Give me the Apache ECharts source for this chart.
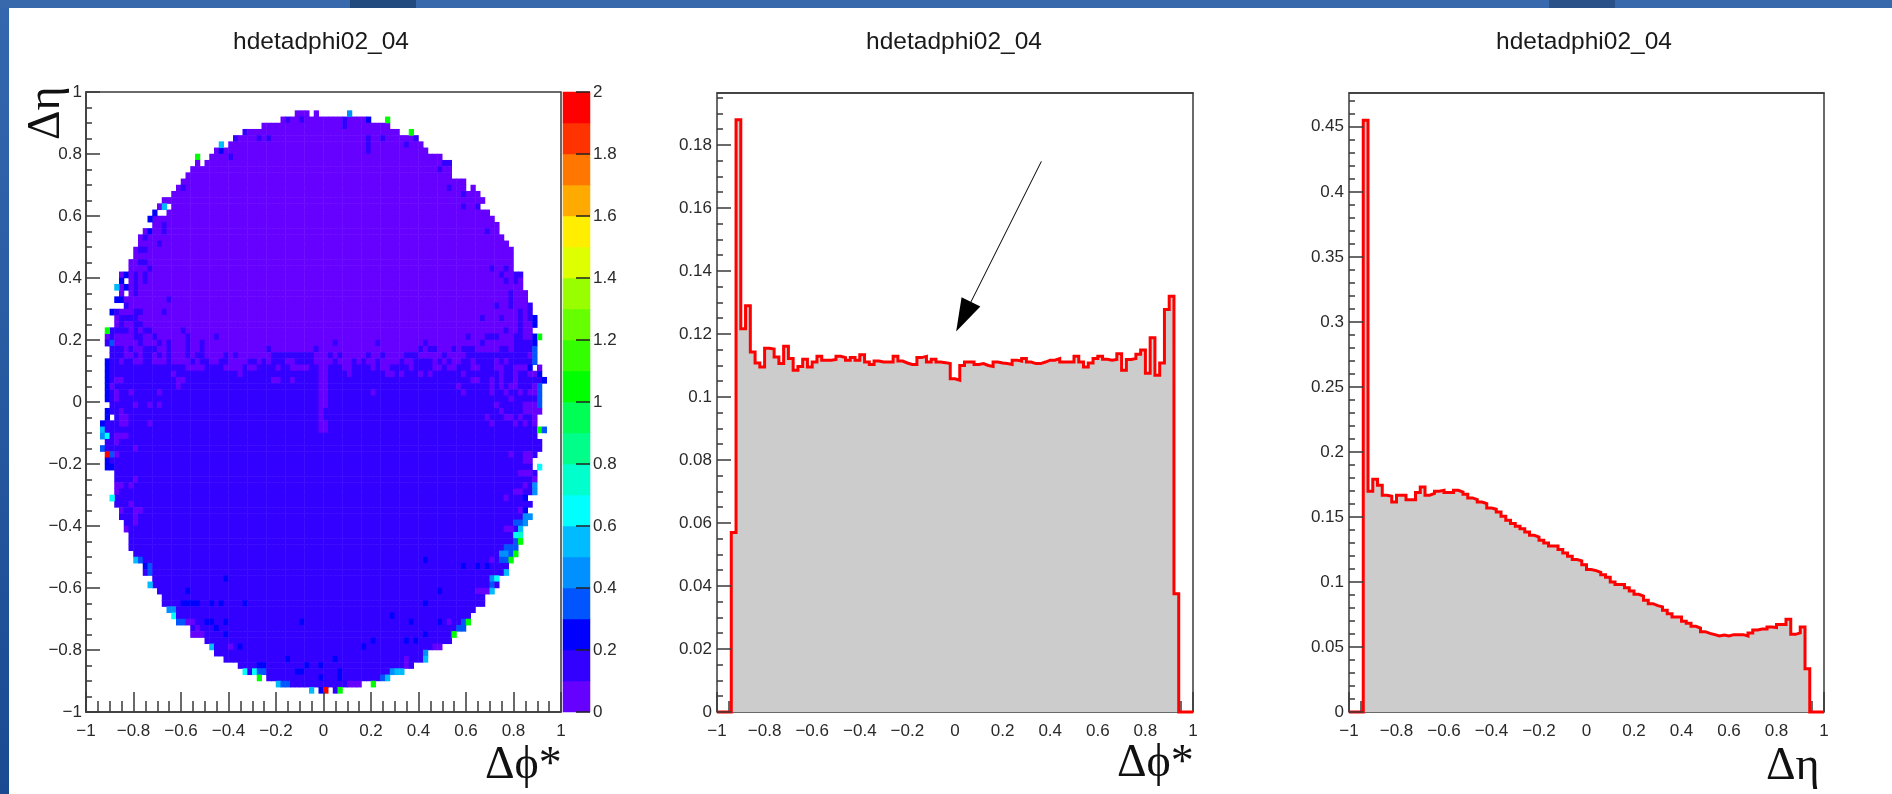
<!DOCTYPE html>
<html><head><meta charset="utf-8">
<style>html,body{margin:0;padding:0;background:#fff}#c{width:1892px;height:794px}</style>
<script src="https://cdn.jsdelivr.net/npm/echarts@6/dist/echarts.min.js"></script>
</head><body><div id="c"></div>
<script>
const titleText = 'hdetadphi02_04';
const axisTicks = [-1,-0.8,-0.6,-0.4,-0.2,0,0.2,0.4,0.6,0.8,1];
const colorTicks = [0,0.2,0.4,0.6,0.8,1,1.2,1.4,1.6,1.8,2];
const phiYTicks = [0,0.02,0.04,0.06,0.08,0.1,0.12,0.14,0.16,0.18];
const etaYTicks = [0,0.05,0.1,0.15,0.2,0.25,0.3,0.35,0.4,0.45];
const phiYMax = 0.1965, etaYMax = 0.476;

// Δφ* projection, 100 bins of 0.02 from -1
const phiHist = [0,0,0,0.057,0.188,0.1217,0.129,0.1143,0.1108,0.1095,0.1155,0.1152,0.1127,0.1106,0.1161,0.1122,0.1085,0.1097,0.112,0.1095,
0.1111,0.1129,0.1117,0.1117,0.1119,0.1129,0.1125,0.1117,0.1125,0.1117,0.1134,0.1111,0.1103,0.1114,0.1111,0.1111,0.1111,0.1129,0.1114,0.1108,
0.1103,0.1103,0.1125,0.1129,0.1111,0.112,0.1111,0.1109,0.1106,0.1058,0.1053,0.11,0.1111,0.1111,0.1103,0.1106,0.11,0.1097,0.1111,0.1108,
0.1106,0.1103,0.1117,0.1114,0.1122,0.1111,0.1106,0.1106,0.1111,0.1117,0.1117,0.1122,0.1111,0.1111,0.1111,0.1129,0.1111,0.1095,0.1108,0.1122,
0.1129,0.112,0.1117,0.1119,0.1137,0.1085,0.1119,0.1122,0.1136,0.1149,0.1075,0.1188,0.1069,0.1108,0.1278,0.132,0.0375,0,0,0];
// Δη projection, 100 bins of 0.02 from -1
const etaHist = [0,0,0,0.455,0.1697,0.179,0.1744,0.1667,0.1659,0.1615,0.1667,0.1667,0.1633,0.1633,0.1687,0.1731,0.1667,0.168,0.1697,0.1705,
0.1687,0.1687,0.1705,0.1692,0.1674,0.1646,0.1633,0.1615,0.1603,0.1569,0.1559,0.1538,0.1505,0.1474,0.1449,0.1428,0.141,0.1385,0.1359,0.1346,
0.1321,0.13,0.1277,0.1277,0.1249,0.1223,0.1197,0.1172,0.1162,0.1133,0.1095,0.1087,0.1074,0.1056,0.1036,0.1,0.098,0.098,0.0956,0.0931,
0.0905,0.0892,0.0859,0.0833,0.0818,0.0808,0.0782,0.0756,0.0731,0.0731,0.0698,0.0682,0.0659,0.0646,0.0618,0.0605,0.0595,0.0585,0.0592,0.0585,
0.0595,0.0595,0.0595,0.0585,0.0608,0.0631,0.0638,0.0638,0.0654,0.0649,0.0672,0.0672,0.0713,0.0597,0.0608,0.0654,0.0333,0,0,0];

// Filled bins of the 2D map: first and last column of rows 3..96, counted from the top
const firstRow = 3;
const rowFirst = [44,41,37,33,31,30,27,26,25,22,21,20,19,18,16,18,17,14,14,12,11,11,10,10,9,9,7,7,7,7,6,8,5,6,6,5,4,4,5,5,4,4,4,4,4,4,4,5,4,4,3,3,3,4,3,4,4,4,6,6,6,6,6,6,7,7,8,8,9,9,9,10,10,12,12,14,14,15,16,16,17,18,19,22,22,25,26,27,29,32,33,38,40,50];
const rowLast  = [46,59,63,65,69,70,71,74,76,76,76,79,79,82,83,82,84,85,86,86,87,88,89,89,89,89,91,91,91,92,92,93,93,94,94,93,94,94,94,94,94,93,95,96,95,95,95,95,95,94,94,94,94,95,95,94,93,93,94,94,94,94,92,93,92,93,92,91,91,91,90,90,89,88,88,86,86,85,83,83,81,80,80,79,76,76,74,71,71,68,66,63,57,50];
const holeCells = [[30,8],[32,8],[52,5]];
const strayCells = [[3,48],[3,55],[4,63],[6,68],[8,28],[10,23],[11,23],[15,81],[18,15],[18,16],[19,14],[20,13],[31,6],[38,4],[39,95],[44,95],[54,95],[54,96],[60,95],[65,5],[79,13],[87,77],[94,36],[95,60],[96,47],[96,49],[96,52],[96,53]];
const lastVioletRow = 43; // rows above this are level 0, rows below are level 1

// Cells that differ from their row's base level: [row, [columns]]
const level0Specks = [[3,[48]],[11,[23]],[18,[15]],[44,[21,22,23,24,29,30,31,32,34,35,40,43,44,45,46,49,50,54,55,60,62,63,68,73,74,76,77,81,82,86,87,90,91,92,95]],
[45,[18,32,49,50,55,63,64,66,70,72,79,87,90,93,94]],[46,[6,7,19,20,39,40,43,49,50,81,82,85,87,90]],[47,[5,19,49,50,78,85,87,89,90,94,95]],[48,[6,9,15,49,50,60,79,85,88,91,93,94]],
[49,[6,49,50,89]],[50,[10,13,15,49,50,86,92,93,94]],[51,[7,49,87,92,93,94,95]],[52,[7,8,49,84,88,89,91,94]],[53,[7,8,13,49,50,85,90,92,94]],[54,[49,50]],[55,[6,7,8]],[56,[6]],[57,[10]],
[58,[5,6,89,92,93]],[59,[92,93]],[61,[91,92,93]],[62,[10,94]],[63,[6,7,9,92]],[64,[6,90,91]],[65,[88]],[66,[9]],[67,[7,10,11,91]],[68,[10]],[69,[10]],[70,[8,88,89]],[75,[85]],[80,[84,82,83]],[85,[21,22,76]],[86,[23]],[87,[22,23,24]],[89,[30,73,74]],[91,[67]],[92,[67]],[95,[55,56,57]]];
const level1Specks = [[4,[42,45,54]],[5,[54]],[6,[33]],[7,[31,36,38,59,62,69]],[8,[59,67]],[9,[59]],[10,[30]],[11,[75,76]],[12,[74]],[15,[20,76]],[16,[79]],[18,[79,82]],[21,[16]],[22,[16,84]],[23,[12]],[24,[15]],[25,[11,12]],[27,[11,12]],[28,[13,85,88]],
[29,[10,12,87,90,91]],[30,[10,12,88,90]],[31,[10]],[32,[10,89]],[33,[17,89]],[34,[8,86,89,93]],[35,[6,10,11,16,91,93]],[36,[7,8,9,10,83,87,91,93]],[37,[7,10,11,91]],[38,[5,6,7,8,10,12,13,20,88,91]],[39,[5,10,11,14,21,27,80,84,85,86,90,91]],[40,[4,11,15,17,21,24,52,61,71,83,90,91,92,93]],
[41,[5,6,7,9,12,13,14,17,21,24,38,48,70,72,73,77,79,80,81,87,88,90,91,92,93]],[42,[5,6,7,10,12,13,15,17,21,23,24,29,31,39,40,41,42,43,44,45,46,47,51,53,59,62,67,68,69,75,80,81,82,83,84,85,86,87,88,89,90,91,92]],
[43,[5,6,8,9,12,13,17,22,24,25,28,29,34,35,37,39,40,41,44,45,46,47,52,56,58,61,66,69,70,71,72,74,76,79,80,82,83,84,85,87,89,90,91,92,93]]];
const level2Specks = [[4,[59]],[9,[28]],[19,[14]],[20,[13]],[22,[13]],[29,[8]],[30,[7]],[31,[8]],[33,[6,7]],[35,[5]],[36,[94]],[37,[94]],[39,[94]],[40,[94]],[43,[4]],[44,[4,93]],[45,[4,95]],[46,[4,96]],[47,[4]],[48,[4]],[49,[4]],[51,[4]],[52,[4]],[53,[3]],[59,[4]],[60,[4,5]],[65,[92]],[67,[92]],
[75,[71]],[76,[12,79,82,84]],[78,[29]],[80,[74,21]],[82,[20,21,22,23,26,28,33,71]],[84,[64]],[85,[25,26,29,45,68,74]],[86,[27]],[87,[29,71]],[88,[60,67,69]],[89,[32,58]],[91,[42,52]],[92,[36,37,46,49]],[93,[44,45,53]],[94,[49,53]],[96,[49]]];
const level3Specks = [[40,[5]],[41,[94]],[42,[94]],[43,[94]],[47,[95]],[48,[95]],[49,[95]],[50,[95]],[54,[96]],[57,[3]],[58,[5]],[69,[90,91]],[72,[90]],[73,[88,89,90]],[74,[89]],[75,[11,87,88]],[76,[13]],[77,[13]],[79,[85]],[85,[19,20,79]],[86,[78,79]],[93,[36,37]],[94,[62]],[95,[41,42]]];
const level4Specks = [[3,[55]],[55,[3]],[63,[94]],[64,[94]],[68,[92,93]],[69,[92]],[74,[87,88]],[78,[85]],[83,[17,18]],[90,[71]],[93,[64]]];
const level5Specks = [[8,[28]],[18,[16]],[31,[6]],[54,[3]],[70,[91]],[75,[10]],[77,[88]],[79,[13]],[80,[85]],[89,[26]],[91,[71]],[93,[65,66]],[94,[63]],[95,[40]],[96,[47]]];
const level6Specks = [[55,[4]],[60,[95]],[65,[5]],[71,[90]],[78,[86]],[84,[18]],[93,[33,35]]];
const level7Specks = [[71,[91]]];
const level10Specks = [[4,[63]],[6,[68]],[10,[23]],[38,[4]],[39,[95]],[54,[95]],[72,[91]],[74,[90]],[75,[89]],[85,[80]],[87,[77]],[94,[36]],[95,[60]],[96,[53]]];
const level19Specks = [[58,[4]],[96,[50]]];

// Colour bands of the palette, from 0 to 2 in steps of 0.1
const paletteColors = ['#6600ff','#3300ff','#0000ff','#0055ff','#0090ff','#00bbff','#00ffff','#00ffcc','#00ff88','#00ff55','#00ff00','#33ff00','#66ff00','#99ff00','#ddff00','#ffee00','#ffaa00','#ff7700','#ff3300','#ff0000'];

// ---- build the 2D map from the tables above ----
const cells = new Map();
const key = (r,c) => r*100+c;
rowFirst.forEach((f,i)=>{
  const r = firstRow+i;
  if (r===96) return;
  for (let c=f;c<=rowLast[i];c++) cells.set(key(r,c), r<=lastVioletRow?0:1);
});
holeCells.forEach(([r,c])=>cells.delete(key(r,c)));
strayCells.forEach(([r,c])=>cells.set(key(r,c), r<=lastVioletRow?0:1));
[[0,level0Specks],[1,level1Specks],[2,level2Specks],[3,level3Specks],[4,level4Specks],[5,level5Specks],[6,level6Specks],[7,level7Specks],[10,level10Specks],[19,level19Specks]]
  .forEach(([lv,list])=>list.forEach(([r,cols])=>cols.forEach(c=>cells.set(key(r,c),lv))));
const heatData = [];
cells.forEach((lv,k)=>heatData.push([k%100, Math.floor(k/100), lv*0.1+0.05]));
const binNames = Array.from({length:100},(_,i)=>String(i));
const paletteData = paletteColors.map((_,i)=>[0,i,i*0.1+0.05]);
const paletteNames = paletteColors.map((_,i)=>String(i));

const minus = v => (v<0 ? '\u2212'+String(-v) : String(v));
const stepData = h => { const d=h.map((v,i)=>[+(-1+0.02*i).toFixed(2),v]); d.push([1,h[h.length-1]]); return d; };
const minorsOf = (ticks,n,max)=>{const s=ticks[1]-ticks[0],o=[];ticks.forEach(t=>{for(let i=1;i<n;i++){const v=+(t+s*i/n).toFixed(4);if(v<max)o.push(v);}});return o;};

const LBL = {fontFamily:'"Liberation Sans",Arial,sans-serif',fontSize:17,color:'#2a2a2a'};
const AX = '#3a3a3a';
const SYM = '"Liberation Serif","DejaVu Serif",serif';
const G = {
  map:{left:86,top:92,width:475,height:620},
  bar:{left:563,top:92,width:27,height:620},
  phi:{left:717,top:93,width:476,height:619},
  eta:{left:1349,top:93,width:475,height:619}
};
const grids=[
 {...G.map,show:false},
 {...G.map,show:true,borderColor:AX,borderWidth:1.5,backgroundColor:'transparent'},
 {...G.bar,show:false},
 {...G.bar,show:false},
 {...G.phi,show:true,borderColor:AX,borderWidth:1.5},
 {...G.eta,show:true,borderColor:AX,borderWidth:1.5}
];
const hidden = (extra)=>({show:false,...extra});
const xTickAxis=(gi,major,minor,extra)=>({type:'value',gridIndex:gi,min:-1,max:1,interval:0.2,z:6,
  axisLine:{show:true,onZero:false,lineStyle:{color:AX,width:1.5}},
  axisTick:{show:true,inside:true,length:major,lineStyle:{color:AX,width:1.5}},
  minorTick:{show:true,splitNumber:4,length:minor,lineStyle:{color:AX,width:1.5}},
  splitLine:{show:false},
  axisLabel:{...LBL,margin:11,formatter:minus,showMinLabel:true,showMaxLabel:true,hideOverlap:false},...extra});
const xName=(text,gap,pad)=>({name:text,nameLocation:'end',nameGap:gap,nameMoveOverlap:false,nameTextStyle:{fontFamily:SYM,fontSize:46,color:'#111',align:'left',verticalAlign:'top',padding:[pad,0,0,0]}});

const option={
 animation:false,backgroundColor:'#fff',
 title:[316,949,1579].map(x=>({text:titleText,left:x,top:25,textAlign:'center',textStyle:{fontFamily:'"Liberation Sans",Arial,sans-serif',fontSize:24.5,fontWeight:'normal',color:'#1a1a1a'}})),
 graphic:{elements:[
  {type:'rect',z:-10,shape:{x:0,y:0,width:9,height:794},style:{fill:{type:'linear',x:0,y:0,x2:0,y2:1,colorStops:[{offset:0,color:'#3468ae'},{offset:1,color:'#1a4a90'}]}}},
  {type:'rect',z:-10,shape:{x:0,y:0,width:1892,height:8},style:{fill:'#3769ac'}},
  {type:'rect',z:-9,shape:{x:350,y:0,width:66,height:8},style:{fill:'#234a7f'}},
  {type:'rect',z:-9,shape:{x:1549,y:0,width:66,height:8},style:{fill:'#2b5288'}}
 ]},
 grid:grids,
 visualMap:{type:'piecewise',show:false,dimension:2,seriesIndex:[0,1],
   pieces:paletteColors.map((color,i)=>({gte:i*0.1,lt:(i+1)*0.1,color}))},
 xAxis:[
  hidden({type:'category',gridIndex:0,data:binNames}),
  xTickAxis(1,20,11,xName('\u0394\u03d5*',-76,31)),
  hidden({type:'category',gridIndex:2,data:['palette']}),
  {type:'value',gridIndex:3,show:false,min:0,max:1},
  xTickAxis(4,20,11,{...xName('\u0394\u03d5*',-76,29),z:1,axisLine:{show:false,onZero:false}}),
  xTickAxis(5,20,11,{...xName('\u0394\u03b7',-58,32),z:1,axisLine:{show:false,onZero:false}}),
  {type:'value',gridIndex:4,min:-1,max:1,z:4,axisLine:{show:true,onZero:false,lineStyle:{color:AX,width:1.5}},axisTick:{show:false},axisLabel:{show:false},splitLine:{show:false}},
  {type:'value',gridIndex:5,min:-1,max:1,z:4,axisLine:{show:true,onZero:false,lineStyle:{color:AX,width:1.5}},axisTick:{show:false},axisLabel:{show:false},splitLine:{show:false}}
 ],
 yAxis:[
  hidden({type:'category',gridIndex:0,data:binNames,inverse:true}),
  {type:'value',gridIndex:1,min:-1,max:1,interval:0.2,z:6,
    name:'\u0394\u03b7',nameLocation:'end',nameRotate:90,nameGap:-48,nameMoveOverlap:false,
    nameTextStyle:{fontFamily:SYM,fontSize:46,color:'#111',verticalAlign:'bottom',padding:[0,0,16,0]},
    axisLine:{show:true,onZero:false,lineStyle:{color:AX,width:1.5}},
    axisTick:{show:true,inside:true,length:14,lineStyle:{color:AX,width:1.5}},
    minorTick:{show:true,splitNumber:4,length:6,lineStyle:{color:AX,width:1.5}},
    splitLine:{show:false},axisLabel:{...LBL,margin:4,formatter:minus,hideOverlap:false}},
  hidden({type:'category',gridIndex:2,data:paletteNames}),
  {type:'value',gridIndex:3,position:'right',min:0,max:2,interval:0.2,z:6,
    axisLine:{show:false,onZero:false},
    axisTick:{show:true,inside:true,length:14,lineStyle:{color:'#222',width:1.5}},
    splitLine:{show:false},axisLabel:{...LBL,margin:3,hideOverlap:false,formatter:v=>String(v)}},
  {type:'value',gridIndex:4,position:'left',min:0,max:phiYMax,z:6,
    axisLine:{show:false,onZero:false},
    axisTick:{show:true,inside:true,length:14,customValues:phiYTicks,lineStyle:{color:AX,width:1.5}},
    splitLine:{show:false},axisLabel:{...LBL,margin:5,customValues:phiYTicks,formatter:v=>String(v),hideOverlap:false}},
  {type:'value',gridIndex:5,position:'left',min:0,max:etaYMax,z:6,
    axisLine:{show:false,onZero:false},
    axisTick:{show:true,inside:true,length:14,customValues:etaYTicks,lineStyle:{color:AX,width:1.5}},
    splitLine:{show:false},axisLabel:{...LBL,margin:5,customValues:etaYTicks,formatter:v=>String(v),hideOverlap:false}},
  {type:'value',gridIndex:4,position:'left',min:0,max:phiYMax,z:6,axisLine:{show:false,onZero:false},axisLabel:{show:false},splitLine:{show:false},
    axisTick:{show:true,inside:true,length:6,customValues:minorsOf(phiYTicks,4,phiYMax),lineStyle:{color:AX,width:1.5}}},
  {type:'value',gridIndex:5,position:'left',min:0,max:etaYMax,z:6,axisLine:{show:false,onZero:false},axisLabel:{show:false},splitLine:{show:false},
    axisTick:{show:true,inside:true,length:6,customValues:minorsOf(etaYTicks,5,etaYMax),lineStyle:{color:AX,width:1.5}}}
 ],
 series:[
  {type:'heatmap',xAxisIndex:0,yAxisIndex:0,data:heatData,progressive:0,itemStyle:{borderWidth:0},emphasis:{disabled:true},z:2},
  {type:'heatmap',xAxisIndex:2,yAxisIndex:2,data:paletteData,progressive:0,itemStyle:{borderWidth:0},emphasis:{disabled:true},z:2},
  {type:'line',xAxisIndex:4,yAxisIndex:4,data:stepData(phiHist),step:'end',showSymbol:false,lineStyle:{width:0,opacity:0},areaStyle:{color:'#cccccc',opacity:1},z:2,silent:true},
  {type:'line',xAxisIndex:4,yAxisIndex:4,data:stepData(phiHist),step:'end',showSymbol:false,clip:false,lineStyle:{color:'#ff0000',width:3,join:'miter'},z:5,silent:true,
   markLine:{silent:true,animation:false,symbol:['none','triangle'],symbolSize:[21,33],label:{show:false},lineStyle:{color:'#000',width:1,type:'solid'},
     data:[[{coord:[0.363,0.1748]},{coord:[0.036,0.1255]}]]}},
  {type:'line',xAxisIndex:5,yAxisIndex:5,data:stepData(etaHist),step:'end',showSymbol:false,lineStyle:{width:0,opacity:0},areaStyle:{color:'#cccccc',opacity:1},z:2,silent:true},
  {type:'line',xAxisIndex:5,yAxisIndex:5,data:stepData(etaHist),step:'end',showSymbol:false,clip:false,lineStyle:{color:'#ff0000',width:3,join:'miter'},z:5,silent:true}
 ]
};
const chart=echarts.init(document.getElementById('c'),null,{renderer:'canvas'});
chart.setOption(option);
</script></body></html>
